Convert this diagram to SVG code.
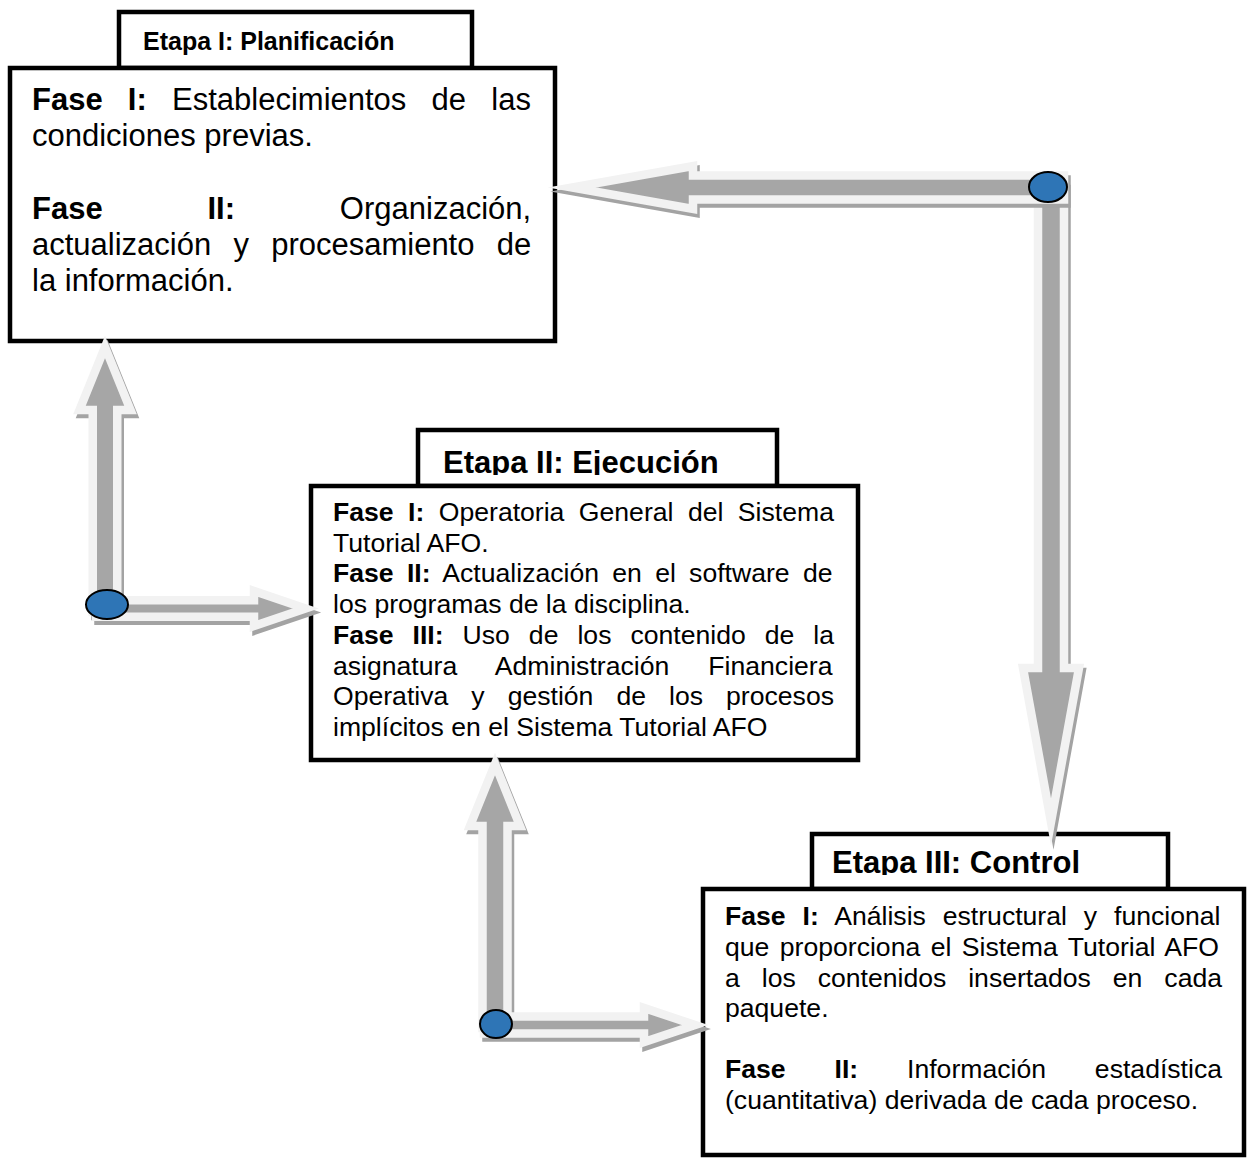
<svg xmlns="http://www.w3.org/2000/svg" xmlns:xlink="http://www.w3.org/1999/xlink" width="1247" height="1164" viewBox="0 0 1247 1164">
<style>
.box{fill:#fff;stroke:#000;stroke-width:4.5}
.t{font-family:"Liberation Sans",Arial,sans-serif;fill:#000}
.b{font-weight:bold}
.title{font-weight:bold}
.arrow{fill:#a6a6a6;stroke:#f2f2f2;stroke-width:8.5;stroke-linejoin:miter;stroke-miterlimit:30}
.shadow{fill:#a3a3a3;stroke:#a3a3a3;stroke-width:8.5;stroke-linejoin:miter;stroke-miterlimit:30}
.dot{fill:#2e75b6;stroke:#000;stroke-width:2}
</style>
<defs>
<path id="pA" d="M1064,175.5 L693,175.5 L693,166 L572,187.5 L693,209 L693,199.5 L1064,199.5 Z"/>
<path id="pB" d="M1038,185 L1038,668 L1023,668 L1051,822 L1079,668 L1064,668 L1064,185 Z"/>
<path id="pC" d="M92.75,612 L92.75,410 L79.5,410 L105,347 L130.5,410 L117.25,410 L117.25,612 Z"/>
<path id="pD" d="M96,600.2 L254,600.2 L254,591 L305.5,608.5 L254,626 L254,616.8 L96,616.8 Z"/>
<path id="pF" d="M482.5,1028 L482.5,826 L470,826 L495,764 L520,826 L507.5,826 L507.5,1028 Z"/>
<path id="pE" d="M484,1016.5 L644,1016.5 L644,1008 L695,1025 L644,1042 L644,1033.5 L484,1033.5 Z"/>
<clipPath id="clip2"><rect x="418" y="430" width="359" height="45"/></clipPath>
<clipPath id="clip3"><rect x="812" y="834" width="356" height="41"/></clipPath>
</defs>

<g id="etapa1">
<rect class="box" x="119" y="12" width="353" height="56"/>
<rect class="box" x="10" y="68" width="545" height="273"/>
<text class="t title" x="143" y="50" font-size="25">Etapa I: Planificación</text>
<g class="t" font-size="31">
<text x="32" y="110" word-spacing="16.6"><tspan class="b">Fase I:</tspan> Establecimientos de las</text>
<text x="32" y="146">condiciones previas.</text>
<text x="32" y="219" word-spacing="96.2"><tspan class="b">Fase II:</tspan> Organización,</text>
<text x="32" y="255" word-spacing="13.6">actualización y procesamiento de</text>
<text x="32" y="291">la información.</text>
</g>
</g>

<g id="etapa2">
<rect class="box" x="418" y="430" width="359" height="56"/>
<rect class="box" x="311" y="486" width="547" height="274"/>
<text class="t title" x="443" y="473" font-size="31" clip-path="url(#clip2)">Etapa II: Ejecución</text>
<g class="t" font-size="26.6">
<text x="333" y="521" word-spacing="7.06"><tspan class="b">Fase I:</tspan> Operatoria General del Sistema</text>
<text x="333" y="552">Tutorial AFO.</text>
<text x="333" y="582" word-spacing="5.88"><tspan class="b">Fase II:</tspan> Actualización en el software de</text>
<text x="333" y="613">los programas de la disciplina.</text>
<text x="333" y="644" word-spacing="11.59"><tspan class="b">Fase III:</tspan> Uso de los contenido de la</text>
<text x="333" y="675" word-spacing="31.7">asignatura Administración Financiera</text>
<text x="333" y="705" word-spacing="15.64">Operativa y gestión de los procesos</text>
<text x="333" y="736">implícitos en el Sistema Tutorial AFO</text>
</g>
</g>

<g id="etapa3">
<rect class="box" x="812" y="834" width="356" height="55"/>
<rect class="box" x="703" y="889" width="541" height="266"/>
<text class="t title" x="832" y="873" font-size="31" clip-path="url(#clip3)">Etapa III: Control</text>
<g class="t" font-size="26.6">
<text x="725" y="925" word-spacing="9.52"><tspan class="b">Fase I:</tspan> Análisis estructural y funcional</text>
<text x="725" y="956" word-spacing="3.02">que proporciona el Sistema Tutorial AFO</text>
<text x="725" y="987" word-spacing="14.54">a los contenidos insertados en cada</text>
<text x="725" y="1017">paquete.</text>
<text x="725" y="1078" word-spacing="41.5"><tspan class="b">Fase II:</tspan> Información estadística</text>
<text x="725" y="1109">(cuantitativa) derivada de cada proceso.</text>
</g>
</g>

<g id="connectors">
<use xlink:href="#pB" class="shadow" transform="translate(2.5,4)"/>
<use xlink:href="#pB" class="arrow"/>
<use xlink:href="#pA" class="shadow" transform="translate(2.5,4)"/>
<use xlink:href="#pA" class="arrow"/>
<use xlink:href="#pC" class="shadow" transform="translate(2.5,4)"/>
<use xlink:href="#pC" class="arrow"/>
<use xlink:href="#pD" class="shadow" transform="translate(2.5,4)"/>
<use xlink:href="#pD" class="arrow"/>
<use xlink:href="#pF" class="shadow" transform="translate(2.5,4)"/>
<use xlink:href="#pF" class="arrow"/>
<use xlink:href="#pE" class="shadow" transform="translate(2.5,4)"/>
<use xlink:href="#pE" class="arrow"/>
<ellipse class="dot" cx="1048" cy="187" rx="19" ry="15"/>
<ellipse class="dot" cx="107" cy="604.5" rx="21" ry="14.5"/>
<ellipse class="dot" cx="496" cy="1024" rx="16" ry="14"/>
</g>
</svg>
